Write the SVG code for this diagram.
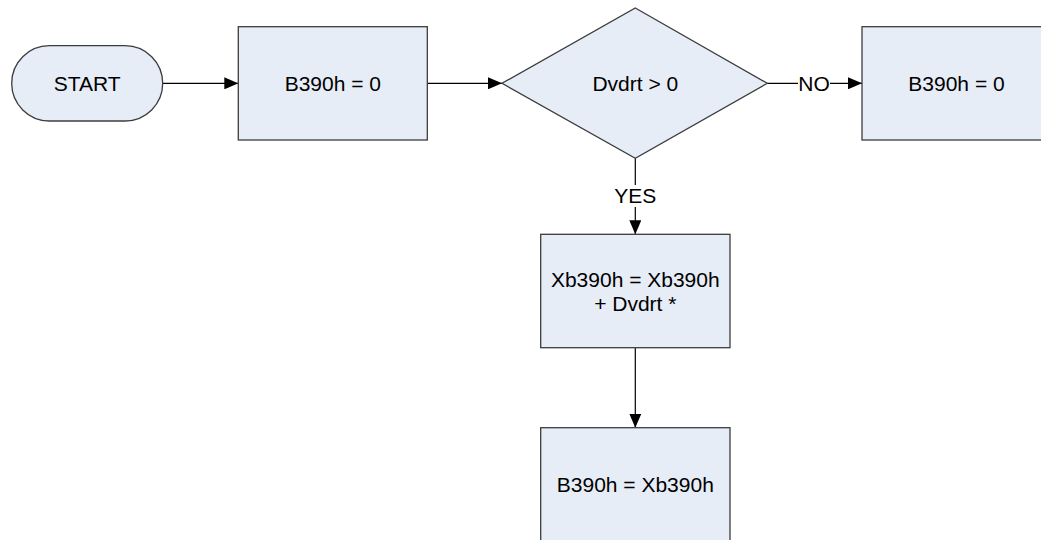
<svg xmlns="http://www.w3.org/2000/svg" width="1041" height="540" viewBox="0 0 1041 540">
<style>
.n{fill:#E6EDF7;stroke:#3C3C3C;stroke-width:1.3}
.t{font-family:"Liberation Sans",Arial,sans-serif;font-size:21px;fill:#000;text-anchor:middle}
.c{stroke:#000;stroke-width:1.2;fill:none}
.lb{fill:#fff}
</style>
<defs>
<marker id="ah" markerWidth="14" markerHeight="12" refX="14" refY="6" orient="auto" markerUnits="userSpaceOnUse">
<path d="M0,0 L14,6 L0,12 Z" fill="#000"/>
</marker>
</defs>
<rect width="1041" height="540" fill="#fff"/>
<g id="connectors">
<line class="c" x1="162.7" y1="83.3" x2="238.3" y2="83.3" marker-end="url(#ah)"/>
<line class="c" x1="427.3" y1="83.3" x2="502" y2="83.3" marker-end="url(#ah)"/>
<line class="c" x1="767.3" y1="83.3" x2="862" y2="83.3" marker-end="url(#ah)"/>
<rect class="lb" x="798" y="72" width="32" height="22"/>
<text class="t" x="814" y="90.8">NO</text>
<line class="c" x1="635.3" y1="158.3" x2="635.3" y2="234.3" marker-end="url(#ah)"/>
<rect class="lb" x="615" y="185" width="41" height="22"/>
<text class="t" x="635.3" y="203.3">YES</text>
<line class="c" x1="635.3" y1="347.7" x2="635.3" y2="427.7" marker-end="url(#ah)"/>
</g>
<g id="start">
<rect class="n" x="11.7" y="45.7" width="151" height="75.3" rx="37.65" ry="37.65"/>
<text class="t" x="87.2" y="90.8">START</text>
</g>
<g id="init">
<rect class="n" x="238.3" y="26.7" width="189" height="113.3"/>
<text class="t" x="332.8" y="90.8">B390h = 0</text>
</g>
<g id="decision">
<polygon class="n" points="635.3,8 767.3,83.3 635.3,158.3 502,83.3"/>
<text class="t" x="635.3" y="90.8">Dvdrt &gt; 0</text>
</g>
<g id="reset">
<rect class="n" x="862" y="26.7" width="189" height="113.3"/>
<text class="t" x="956.5" y="90.8">B390h = 0</text>
</g>
<g id="accumulate">
<rect class="n" x="540.7" y="234.3" width="189.3" height="113.4"/>
<text class="t" x="635.3" y="286.7">Xb390h = Xb390h</text>
<text class="t" x="635.3" y="311">+ Dvdrt *</text>
</g>
<g id="assign">
<rect class="n" x="540.7" y="427.7" width="189.3" height="125"/>
<text class="t" x="635.3" y="491.8">B390h = Xb390h</text>
</g>
</svg>
